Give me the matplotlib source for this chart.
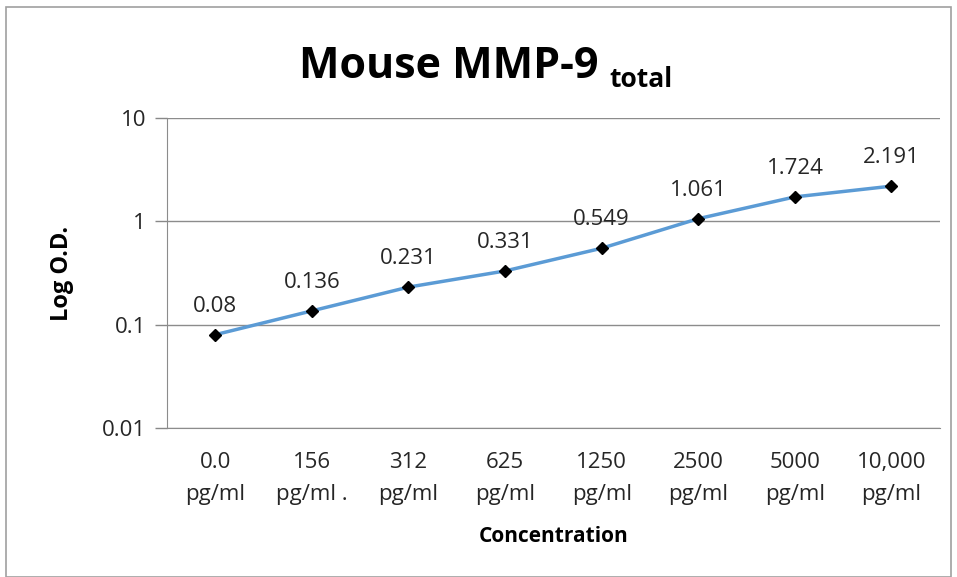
import matplotlib.pyplot as plt
from matplotlib.patches import Rectangle

# data
categories = ["0.0\npg/ml", "156\npg/ml .", "312\npg/ml", "625\npg/ml",
              "1250\npg/ml", "2500\npg/ml", "5000\npg/ml", "10,000\npg/ml"]
od_values = [0.08, 0.136, 0.231, 0.331, 0.549, 1.061, 1.724, 2.191]
od_labels = ["0.08", "0.136", "0.231", "0.331", "0.549", "1.061", "1.724", "2.191"]
y_ticks = [0.01, 0.1, 1, 10]
y_tick_labels = ["0.01", "0.1", "1", "10"]

plt.rcParams['font.family'] = ['Open Sans', 'DejaVu Sans']

fig = plt.figure(figsize=(9.57, 5.77), dpi=100)
ax = fig.add_axes([0.1745, 0.2582, 0.8075, 0.5373])

# chart border
fig.patches.append(Rectangle((6 / 957, 0), 945 / 957, 1 - 7 / 577, transform=fig.transFigure,
                             fill=False, edgecolor='#a0a0a0', linewidth=1.2))

x = list(range(len(categories)))
ax.plot(x, od_values, color='#5b9bd5', linewidth=2.5, marker='D', markersize=6,
        markerfacecolor='black', markeredgecolor='black', zorder=3)

for xi, v, lab in zip(x, od_values, od_labels):
    ax.annotate(lab, (xi, v), xytext=(0, 13), textcoords='offset points',
                ha='center', va='bottom', fontsize=16, color='#262626')

ax.set_yscale('log')
ax.set_ylim(0.01, 10)
ax.set_xlim(-0.5, len(categories) - 0.5)
ax.set_yticks(y_ticks)
ax.set_yticklabels(y_tick_labels, fontsize=16, color='#262626')
ax.yaxis.set_minor_locator(plt.NullLocator())
ax.set_xticks(x)
ax.set_xticklabels(categories, fontsize=16, color='#262626', linespacing=1.7)
ax.tick_params(axis='x', length=0, pad=17)
ax.tick_params(axis='y', length=9, width=1, color='#888888', pad=6)

ax.grid(axis='y', color='#8c8c8c', linewidth=1)
ax.set_axisbelow(True)
for side in ['top', 'right']:
    ax.spines[side].set_visible(False)
ax.spines['left'].set_color('#8c8c8c')
ax.spines['bottom'].set_color('#8c8c8c')

ax.set_ylabel("Log O.D.", fontsize=17, fontweight='bold', labelpad=20)
ax.set_xlabel("Concentration", fontsize=15, fontweight='bold', labelpad=15)

# title with a subscript part
fig.text(0.6255, 0.885, "Mouse MMP-9", ha='right', va='center',
         fontsize=31, fontweight='bold')
fig.text(0.637, 0.862, "total", ha='left', va='center', fontsize=19, fontweight='bold')

fig.savefig('out.png', dpi=100)
